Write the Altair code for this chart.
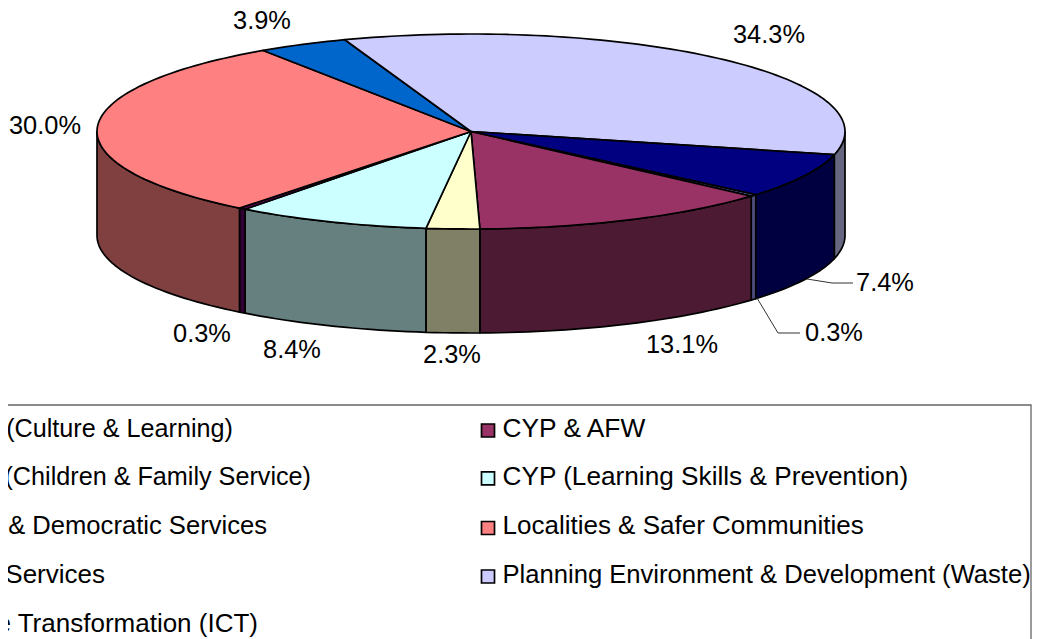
import math
import altair as alt
import pandas as pd

# Chart values, clockwise from the start angle
slices = ["Culture", "AFW", "Children", "Learning", "Democratic", "Localities", "Services", "Planning", "ICT"]
shares = [0.3, 13.1, 2.3, 8.4, 0.3, 30.0, 3.9, 34.3, 7.4]
top_colors = ["#9999FF", "#993366", "#FFFFCC", "#CCFFFF", "#660066", "#FF8080", "#0066CC", "#CCCCFF", "#000080"]
side_colors = ["#4D4D80", "#4D1A33", "#808066", "#668080", "#330033", "#804040", "#003366", "#666680", "#000040"]
label_texts = ["0.3%", "13.1%", "2.3%", "8.4%", "0.3%", "30.0%", "3.9%", "34.3%", "7.4%"]

legend_left = ["(Culture & Learning)", "(Children & Family Service)", "& Democratic Services", "Services", "ce Transformation (ICT)"]
legend_right = ["CYP & AFW", "CYP (Learning Skills & Prevention)", "Localities & Safer Communities", "Planning Environment & Development (Waste)"]
legend_right_colors = ["#993366", "#CCFFFF", "#FF8080", "#CCCCFF"]

# Layout
CX, CY, RX, RY, DEPTH, START = 471, 131.5, 374, 97.5, 104, 130.4
FONT = "Liberation Sans"
label_x = [834, 682, 452, 292, 202, 45, 262, 769, 885]
label_y = [341, 353, 363, 358, 342, 134, 29, 43, 291]
legend_base = [437, 485, 534, 583, 632]
legend_sym = [430.5, 478.3, 528, 576.5]
left_end = [233, 311, 267, 105, 258]
left_sizes = [25.2, 25.2, 25.6, 26, 26]
right_sizes = [26.3, 26.2, 26, 25.6]

xs = alt.Scale(domain=[8, 1032], range=[0, 1024], nice=False, zero=False)
ys = alt.Scale(domain=[8, 639], range=[0, 631], nice=False, zero=False)
X = alt.X("x:Q", scale=xs, axis=None)
Y = alt.Y("y:Q", scale=ys, axis=None)


def pt(t, dz=0):
    r = math.radians(t)
    return CX + RX * math.sin(r), CY - RY * math.cos(r) + dz


def poly(points, fill, sw=1.7, stroke="black"):
    df = pd.DataFrame(points, columns=["x", "y"])
    df["i"] = range(len(df))
    return alt.Chart(df).mark_line(fill=fill, stroke=stroke, strokeWidth=sw, strokeJoin="round").encode(
        x=X, y=Y, order="i:Q"
    )


def arc(a, b, dz=0):
    n = max(2, int(abs(b - a) / 1.5) + 2)
    return [pt(a + (b - a) * i / (n - 1), dz) for i in range(n)]


walls, tops = [], []
t = START
for share, top, side in zip(shares, top_colors, side_colors):
    a, b = t, t + share * 3.6
    t = b
    tops.append(poly([(CX, CY)] + arc(a, b) + [(CX, CY)], top))
    # a slice's wall is visible only on the front half of the ellipse
    for lo, hi in ((90, 270), (450, 630)):
        s, e = max(a, lo), min(b, hi)
        if e > s:
            ring = arc(s, e) + arc(e, s, DEPTH)
            walls.append(poly(ring + ring[:1], side))


def text_layer(rows, align, size):
    return alt.Chart(pd.DataFrame(rows, columns=["x", "y", "t"])).mark_text(
        font=FONT, fontSize=size, color="black", align=align, baseline="alphabetic"
    ).encode(x=X, y=Y, text="t:N")


labels = text_layer(list(zip(label_x, label_y, label_texts)), "center", 25.4)
leg_l = [
    text_layer([(e, y, s)], "right", z)
    for e, y, s, z in zip(left_end, legend_base, legend_left, left_sizes)
]
leg_r = [
    text_layer([(502.5, y, s)], "left", z)
    for y, s, z in zip(legend_base, legend_right, right_sizes)
]

sym = alt.Chart(pd.DataFrame({"x": [488] * 4, "y": legend_sym, "c": legend_right})).mark_square(
    size=169, stroke="black", strokeWidth=1.7, opacity=1
).encode(
    x=X, y=Y,
    fill=alt.Fill("c:N", scale=alt.Scale(domain=legend_right, range=legend_right_colors), legend=None),
)


def path(points, color="black", sw=1.0):
    df = pd.DataFrame(points, columns=["x", "y"])
    df["i"] = range(len(df))
    return alt.Chart(df).mark_line(color=color, strokeWidth=sw).encode(x=X, y=Y, order="i:Q")


leaders = [path([(807, 279), (832, 283), (853, 283)], "#333333"), path([(757, 298), (778, 333), (800, 333)], "#333333")]
box = path([(0, 405), (1031, 405), (1031, 639)], "#666666", 1.3)

chart = alt.layer(*walls, *tops, *leaders, labels, box, sym, *leg_l, *leg_r).properties(
    width=1024, height=631, padding=0, autosize="none", background="white"
).configure_view(stroke=None)

chart.save("out.html", embed_options={"renderer": "svg", "actions": False})
